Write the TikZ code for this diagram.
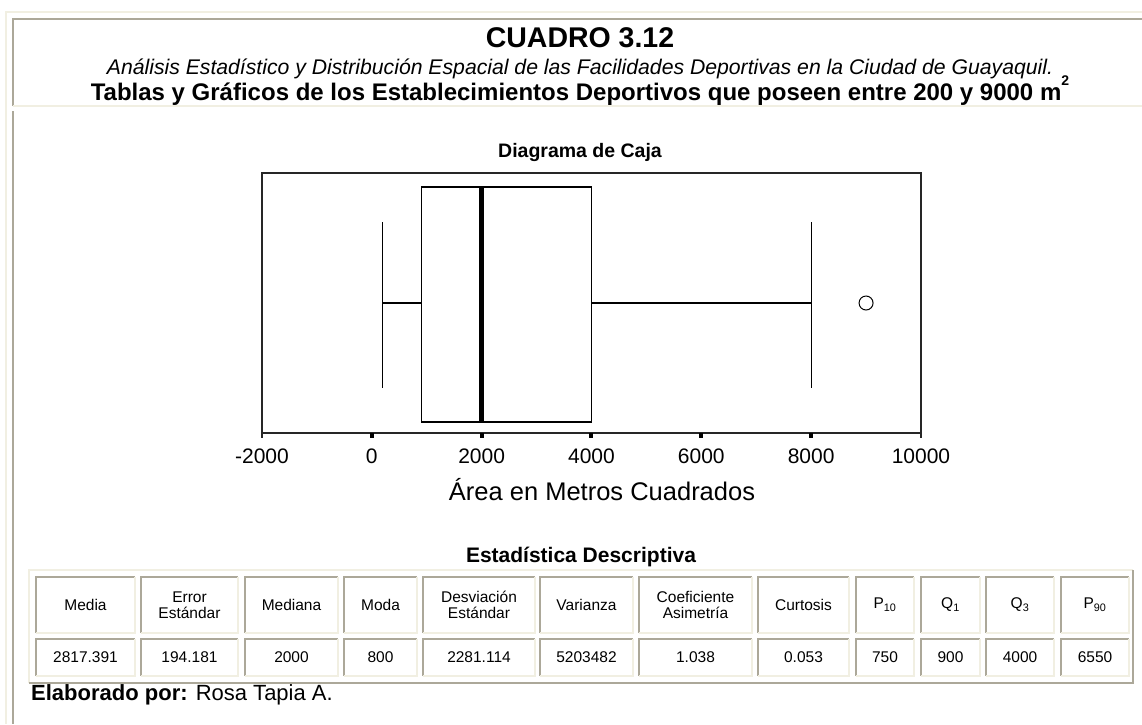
\documentclass[tikz,border=0pt]{standalone}
\usepackage{fontspec}
\setmainfont{Liberation Sans}
\definecolor{shade}{HTML}{ACA899}
\definecolor{paper}{HTML}{F1EFE2}

\begin{document}
\begin{tikzpicture}[
    x=1pt, y=-1pt,
    dark edge/.style={draw=shade,line width=2pt},
    light edge/.style={draw=paper,line width=2pt},
    axis frame/.style={draw=black!85,line width=1.4pt},
    box line/.style={draw=black,line width=1.2pt},
    median line/.style={draw=black,line width=5.5pt},
    outlier/.style={circle,draw,line width=1pt,minimum size=14pt,inner sep=0pt},
    tick label/.style={anchor=base,font=\fontsize{21}{24}\selectfont},
    head cell/.style={align=center,font=\fontsize{15.5}{16.5}\selectfont},
    data cell/.style={font=\fontsize{15.5}{17}\selectfont}]

  \useasboundingbox (0,0) rectangle (1142,724);

  % frames of the page
  \draw[light edge] (6,724) |- (1142,12);
  \draw[dark edge] (13,106) |- (1142,19);
  \draw[light edge] (13,106) -- (1142,106);
  \draw[dark edge] (13,111) -- (13,724);

  % heading
  \node[anchor=base,font=\fontsize{28.5}{32}\selectfont\bfseries] (cuadro) at (580,47) {CUADRO 3.12};
  \node[anchor=base,font=\fontsize{21.2}{24}\selectfont\itshape] (subtitle) at (580,74)
    {Análisis Estadístico y Distribución Espacial de las Facilidades Deportivas en la Ciudad de Guayaquil.};
  \node[anchor=base,font=\fontsize{24}{26}\selectfont\bfseries] (heading) at (580,100)
    {Tablas y Gráficos de los Establecimientos Deportivos que poseen entre 200 y 9000 m\raisebox{0.62em}{\fontsize{14}{14}\selectfont 2}};

  % box plot
  \node[anchor=base,font=\fontsize{19.5}{22}\selectfont\bfseries] (plottitle) at (580,157) {Diagrama de Caja};
  \begin{scope}[shift={(371.8,0)},x=0.05492pt]
    \draw[axis frame] (-2000,173) rectangle (10000,433);
    \draw[axis frame] (-2000,433) -- (-2000,438) (10000,433) -- (10000,438);
    \foreach \v in {0,2000,...,8000}
      \draw[line width=4pt] (\v,433) -- (\v,437.5);
    \foreach \v [count=\i] in {-2000,0,2000,4000,6000,8000,10000}
      \node[tick label] (tick\i) at (\v,463) {\v};
    \draw[box line] (900,187) rectangle (4000,422);
    \draw[median line] (2000,187) -- (2000,422);
    \draw[box line] (200,222) -- (200,388) (200,303) -- (900,303);
    \draw[box line] (4000,303) -- (8000,303) (8000,222) -- (8000,388);
    \node[outlier] (far) at (9000,303) {};
  \end{scope}
  \node[anchor=base,font=\fontsize{25.5}{28}\selectfont] (axistitle) at (602,500) {Área en Metros Cuadrados};

  % statistics table
  \node[anchor=base,font=\fontsize{21}{24}\selectfont\bfseries] (tabletitle) at (581,562) {Estadística Descriptiva};
  \draw[light edge] (29,683) |- (1133,570);
  \draw[dark edge] (29,683) -| (1133,570);
  \foreach \l/\r/\txt/\num [count=\i] in {
      36/135/Media/2817.391,
      141/238/{Error\\Estándar}/194.181,
      245/338/Mediana/2000,
      344/417/Moda/800,
      423/535/{Desviación\\Estándar}/2281.114,
      540/633/Varianza/5203482,
      639/752/{Coeficiente\\Asimetría}/1.038,
      758/849/Curtosis/0.053,
      856/914/P\textsubscript{10}/750,
      921/980/Q\textsubscript{1}/900,
      986/1054/Q\textsubscript{3}/4000,
      1061/1129/P\textsubscript{90}/6550} {
    \draw[dark edge] (\l,633) |- (\r,577);
    \draw[light edge] (\l,633) -| (\r,577);
    \draw[dark edge] (\l,676) |- (\r,639);
    \draw[light edge] (\l,676) -| (\r,639);
    \node[head cell] (head\i) at ({(\l+\r)/2},605) {\txt};
    \node[data cell] (value\i) at ({(\l+\r)/2},657.5) {\num};
  }

  \node[anchor=base west,inner sep=0pt,font=\fontsize{22}{24}\selectfont] (credit) at (31,700)
    {\textbf{Elaborado por:} Rosa Tapia A.};
\end{tikzpicture}
\end{document}
